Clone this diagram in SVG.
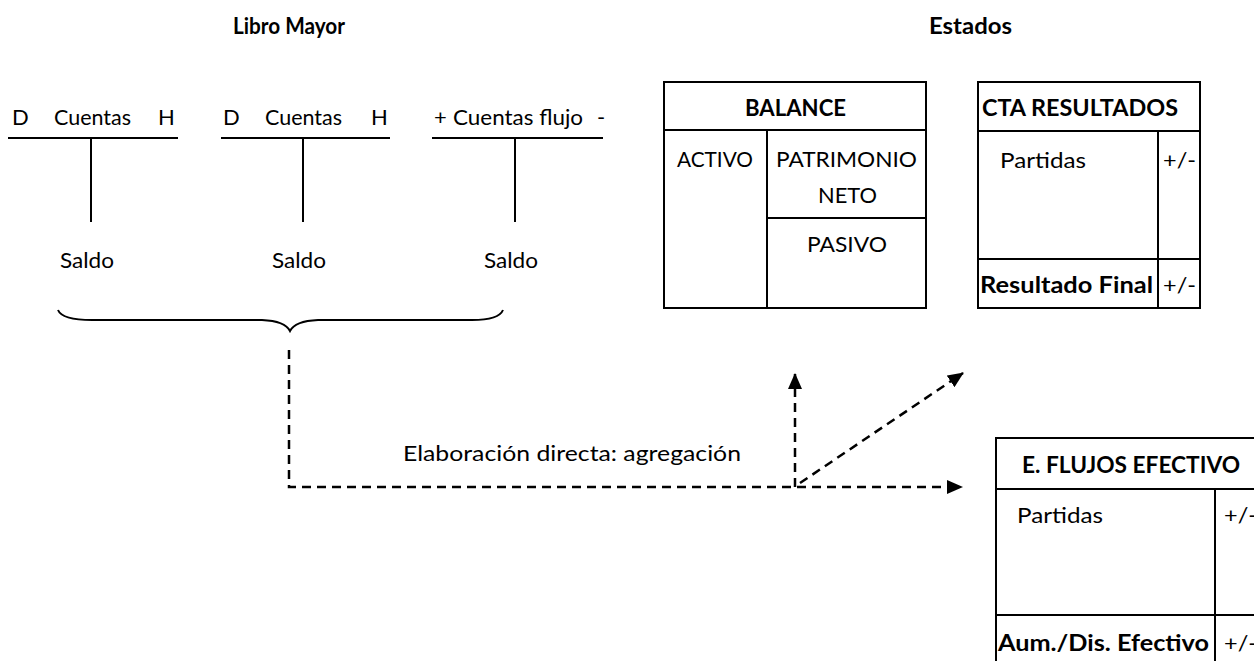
<svg xmlns="http://www.w3.org/2000/svg" width="1254" height="661" viewBox="0 0 1254 661">
<defs>
<style>
text{font-family:Lato,"Liberation Sans",sans-serif;font-size:22px;fill:#000}
.b{font-weight:bold}
.ln{stroke:#000;stroke-width:2;fill:none}
.box{stroke:#000;stroke-width:2;fill:#fff}
.dash{stroke:#000;stroke-width:2.5;fill:none;stroke-dasharray:9 6}
</style>
<marker id="ah" viewBox="0 0 16 14" refX="15" refY="7" markerWidth="16" markerHeight="14" markerUnits="userSpaceOnUse" orient="auto">
<path d="M0,0 L16,7 L0,14 z" fill="#000" stroke="none"/>
</marker>
</defs>
<rect width="1254" height="661" fill="#fff"/>

<g id="titles">
<text class="b" x="233" y="34" textLength="112" lengthAdjust="spacingAndGlyphs">Libro Mayor</text>
<text class="b" x="929" y="34" textLength="83" lengthAdjust="spacingAndGlyphs">Estados</text>
</g>

<g id="cuenta1">
<text x="12" y="125">D</text>
<text x="54" y="125" textLength="77" lengthAdjust="spacingAndGlyphs">Cuentas</text>
<text x="158" y="125">H</text>
<line class="ln" x1="8" y1="138" x2="178" y2="138"/>
<line class="ln" x1="91" y1="138" x2="91" y2="222"/>
<text x="60" y="268" textLength="54" lengthAdjust="spacingAndGlyphs">Saldo</text>
</g>

<g id="cuenta2">
<text x="223" y="125">D</text>
<text x="265" y="125" textLength="77" lengthAdjust="spacingAndGlyphs">Cuentas</text>
<text x="371" y="125">H</text>
<line class="ln" x1="221" y1="138" x2="390" y2="138"/>
<line class="ln" x1="303" y1="138" x2="303" y2="222"/>
<text x="272" y="268" textLength="54" lengthAdjust="spacingAndGlyphs">Saldo</text>
</g>

<g id="cuenta3">
<text x="434" y="125">+</text>
<text x="453" y="125" textLength="130" lengthAdjust="spacingAndGlyphs">Cuentas flujo</text>
<text x="597" y="125">-</text>
<line class="ln" x1="432" y1="138" x2="603" y2="138"/>
<line class="ln" x1="515" y1="138" x2="515" y2="222"/>
<text x="484" y="268" textLength="54" lengthAdjust="spacingAndGlyphs">Saldo</text>
</g>

<g id="llave">
<path class="ln" d="M58,310 Q62,320 92,320 L262,320 Q285,321 290,331 Q295,321 318,320 L472,320 Q499,320 503,310"/>
</g>

<g id="balance">
<rect class="box" x="664" y="82" width="262" height="226"/>
<line class="ln" x1="664" y1="130" x2="926" y2="130"/>
<line class="ln" x1="767" y1="130" x2="767" y2="308"/>
<line class="ln" x1="767" y1="218" x2="926" y2="218"/>
<text class="b" x="745" y="116" textLength="101" lengthAdjust="spacingAndGlyphs">BALANCE</text>
<text x="677" y="167" textLength="76" lengthAdjust="spacingAndGlyphs">ACTIVO</text>
<text x="776" y="167" textLength="141" lengthAdjust="spacingAndGlyphs">PATRIMONIO</text>
<text x="818" y="203" textLength="59" lengthAdjust="spacingAndGlyphs">NETO</text>
<text x="807" y="252" textLength="80" lengthAdjust="spacingAndGlyphs">PASIVO</text>
</g>

<g id="cta-resultados">
<rect class="box" x="978" y="82" width="222" height="226"/>
<line class="ln" x1="978" y1="131" x2="1200" y2="131"/>
<line class="ln" x1="1158" y1="131" x2="1158" y2="308"/>
<line class="ln" x1="978" y1="259" x2="1200" y2="259"/>
<text class="b" x="982" y="116" textLength="196" lengthAdjust="spacingAndGlyphs">CTA RESULTADOS</text>
<text x="1000" y="168" textLength="86" lengthAdjust="spacingAndGlyphs">Partidas</text>
<text x="1163" y="168" textLength="33" lengthAdjust="spacingAndGlyphs">+/-</text>
<text class="b" x="980" y="293" textLength="173" lengthAdjust="spacingAndGlyphs">Resultado Final</text>
<text x="1163" y="293" textLength="33" lengthAdjust="spacingAndGlyphs">+/-</text>
</g>

<g id="e-flujos-efectivo">
<rect class="box" x="996" y="438" width="280" height="240"/>
<line class="ln" x1="996" y1="489" x2="1254" y2="489"/>
<line class="ln" x1="1215" y1="489" x2="1215" y2="661"/>
<line class="ln" x1="996" y1="615" x2="1254" y2="615"/>
<text class="b" x="1022" y="473" textLength="218" lengthAdjust="spacingAndGlyphs">E. FLUJOS EFECTIVO</text>
<text x="1017" y="523" textLength="86" lengthAdjust="spacingAndGlyphs">Partidas</text>
<text x="1224" y="523" textLength="33" lengthAdjust="spacingAndGlyphs">+/-</text>
<text class="b" x="998" y="651" textLength="211" lengthAdjust="spacingAndGlyphs">Aum./Dis. Efectivo</text>
<text x="1224" y="651" textLength="33" lengthAdjust="spacingAndGlyphs">+/-</text>
</g>

<g id="connectors">
<path class="dash" d="M289,350 L289,487 L962,487" marker-end="url(#ah)"/>
<line class="dash" x1="795" y1="487" x2="795" y2="374" marker-end="url(#ah)"/>
<line class="dash" x1="800" y1="483" x2="963" y2="373" marker-end="url(#ah)"/>
<text x="403" y="461" textLength="338" lengthAdjust="spacingAndGlyphs">Elaboración directa: agregación</text>
</g>
</svg>
